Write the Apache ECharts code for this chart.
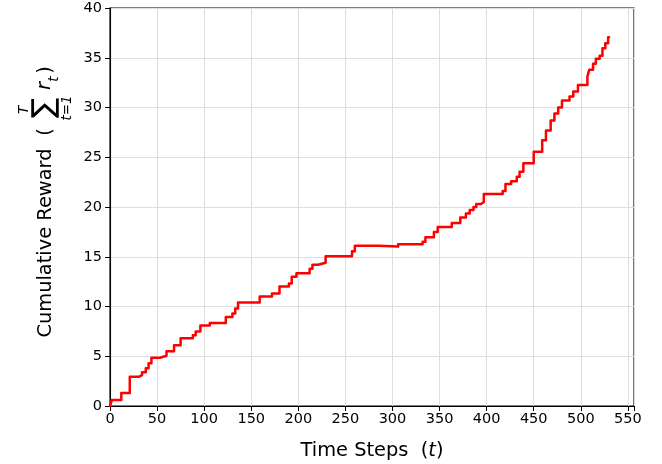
<!DOCTYPE html>
<html>
<head>
<meta charset="utf-8">
<title>Cumulative Reward</title>
<script src="https://cdn.jsdelivr.net/npm/echarts@6/dist/echarts.min.js"></script>
<style>
  html, body { margin: 0; padding: 0; background: #ffffff; }
  #chart { width: 662px; height: 464px; }
</style>
</head>
<body>
<div id="chart"></div>
<script>
// Time step at which the running total changes, and the total from that step on
const timeSteps = [0, 2, 12, 21, 31, 34, 38, 41, 44, 53, 60, 68, 75, 88, 91, 96, 106, 123, 130, 133,
  136, 159, 172, 180, 190, 193, 198, 212, 215, 221, 229, 257, 260, 270, 285, 306, 332, 335, 344, 348,
  363, 372, 378, 382, 386, 389, 394, 397, 417, 420, 426, 432, 435, 439, 450, 459, 463, 468, 472, 476,
  480, 488, 492, 497, 507, 509, 513, 516, 520, 523, 526, 529, 530];
const cumulativeReward = [0, 0.6, 1.3, 2.95, 3.1, 3.4, 3.8, 4.3, 4.85, 5.05, 5.5, 6.1, 6.8, 7.1, 7.5, 8.1, 8.35, 8.95, 9.3, 9.8,
  10.4, 11.0, 11.3, 12.0, 12.3, 13.0, 13.35, 13.8, 14.2, 14.4, 15.05, 15.55, 16.1, 16.1, 16.02, 16.25, 16.5, 16.95, 17.5, 18.0,
  18.4, 18.95, 19.35, 19.7, 20.0, 20.3, 20.5, 21.3, 21.6, 22.3, 22.6, 23.05, 23.55, 24.4, 25.55, 26.7, 27.7, 28.7, 29.4, 30.0,
  30.7, 31.1, 31.6, 32.25, 33.1, 33.8, 34.4, 34.9, 35.2, 35.95, 36.45, 37.05, 37.05];

const xTicks = [0, 50, 100, 150, 200, 250, 300, 350, 400, 450, 500, 550];
const yTicks = [0, 5, 10, 15, 20, 25, 30, 35, 40];

const FONT = '"DejaVu Sans", sans-serif';
const TITLE_SIZE = 19.4;
const SMALL_SIZE = 13.5;
const seriesData = timeSteps.map((t, i) => [t, cumulativeReward[i]]);

const chart = echarts.init(document.getElementById('chart'), null, { renderer: 'canvas' });

const labelStyle = { color: '#000', fontFamily: FONT, fontSize: 14.5 };

// Rotated y-axis title: plain text plus a summation with limits above and below
function rotText(x, y, text, size, italic) {
  return {
    type: 'text', x: x, y: y, rotation: Math.PI / 2, silent: true,
    style: {
      text: text, fill: '#000', fontFamily: FONT, fontSize: size,
      fontStyle: italic ? 'italic' : 'normal',
      align: 'center', verticalAlign: 'middle'
    }
  };
}

chart.setOption({
  animation: false,
  backgroundColor: '#ffffff',
  grid: {
    left: 110, top: 8, width: 524, height: 398,
    show: true, borderColor: '#000', borderWidth: 1.1, backgroundColor: 'transparent',
    outerBoundsMode: 'none'
  },
  xAxis: {
    type: 'value', min: 0, max: 556.5, interval: 50,
    name: 'Time Steps  ({i|t})',
    nameLocation: 'middle', nameGap: 35,
    nameTextStyle: {
      color: '#000', fontFamily: FONT, fontSize: TITLE_SIZE,
      rich: { i: { fontFamily: FONT, fontSize: TITLE_SIZE, fontStyle: 'italic', color: '#000' } }
    },
    axisLine: { show: true, lineStyle: { color: '#000', width: 1.1 } },
    axisTick: { show: true, inside: false, length: 5, lineStyle: { color: '#000', width: 1 } },
    axisLabel: Object.assign({
      margin: 6,
      formatter: v => (xTicks.indexOf(v) >= 0 ? String(v) : '')
    }, labelStyle),
    splitLine: { show: true, lineStyle: { color: '#dedede', width: 1 } }
  },
  yAxis: {
    type: 'value', min: 0, max: 40, interval: 5,
    axisLine: { show: true, lineStyle: { color: '#000', width: 1.1 } },
    axisTick: { show: true, inside: false, length: 5, lineStyle: { color: '#000', width: 1 } },
    axisLabel: Object.assign({
      margin: 8,
      formatter: v => (yTicks.indexOf(v) >= 0 ? String(v) : '')
    }, labelStyle),
    splitLine: { show: true, lineStyle: { color: '#dedede', width: 1 } }
  },
  series: [{
    type: 'line',
    data: seriesData,
    step: 'end',
    showSymbol: false,
    symbol: 'none',
    lineStyle: { color: '#ff0000', width: 2.5, join: 'round', cap: 'round' },
    clip: false
  }],
  graphic: [
    rotText(46, 243, 'Cumulative Reward', TITLE_SIZE, false),
    rotText(46, 132, '(', TITLE_SIZE, false),
    rotText(45, 108, '\u2211', 30, false),
    rotText(24, 110, 'T', SMALL_SIZE, true),
    rotText(67, 108, 't=1', SMALL_SIZE, true),
    rotText(45, 86, 'r', TITLE_SIZE, true),
    rotText(54, 79, 't', SMALL_SIZE, true),
    rotText(46, 70, ')', TITLE_SIZE, false)
  ]
});
</script>
</body>
</html>
